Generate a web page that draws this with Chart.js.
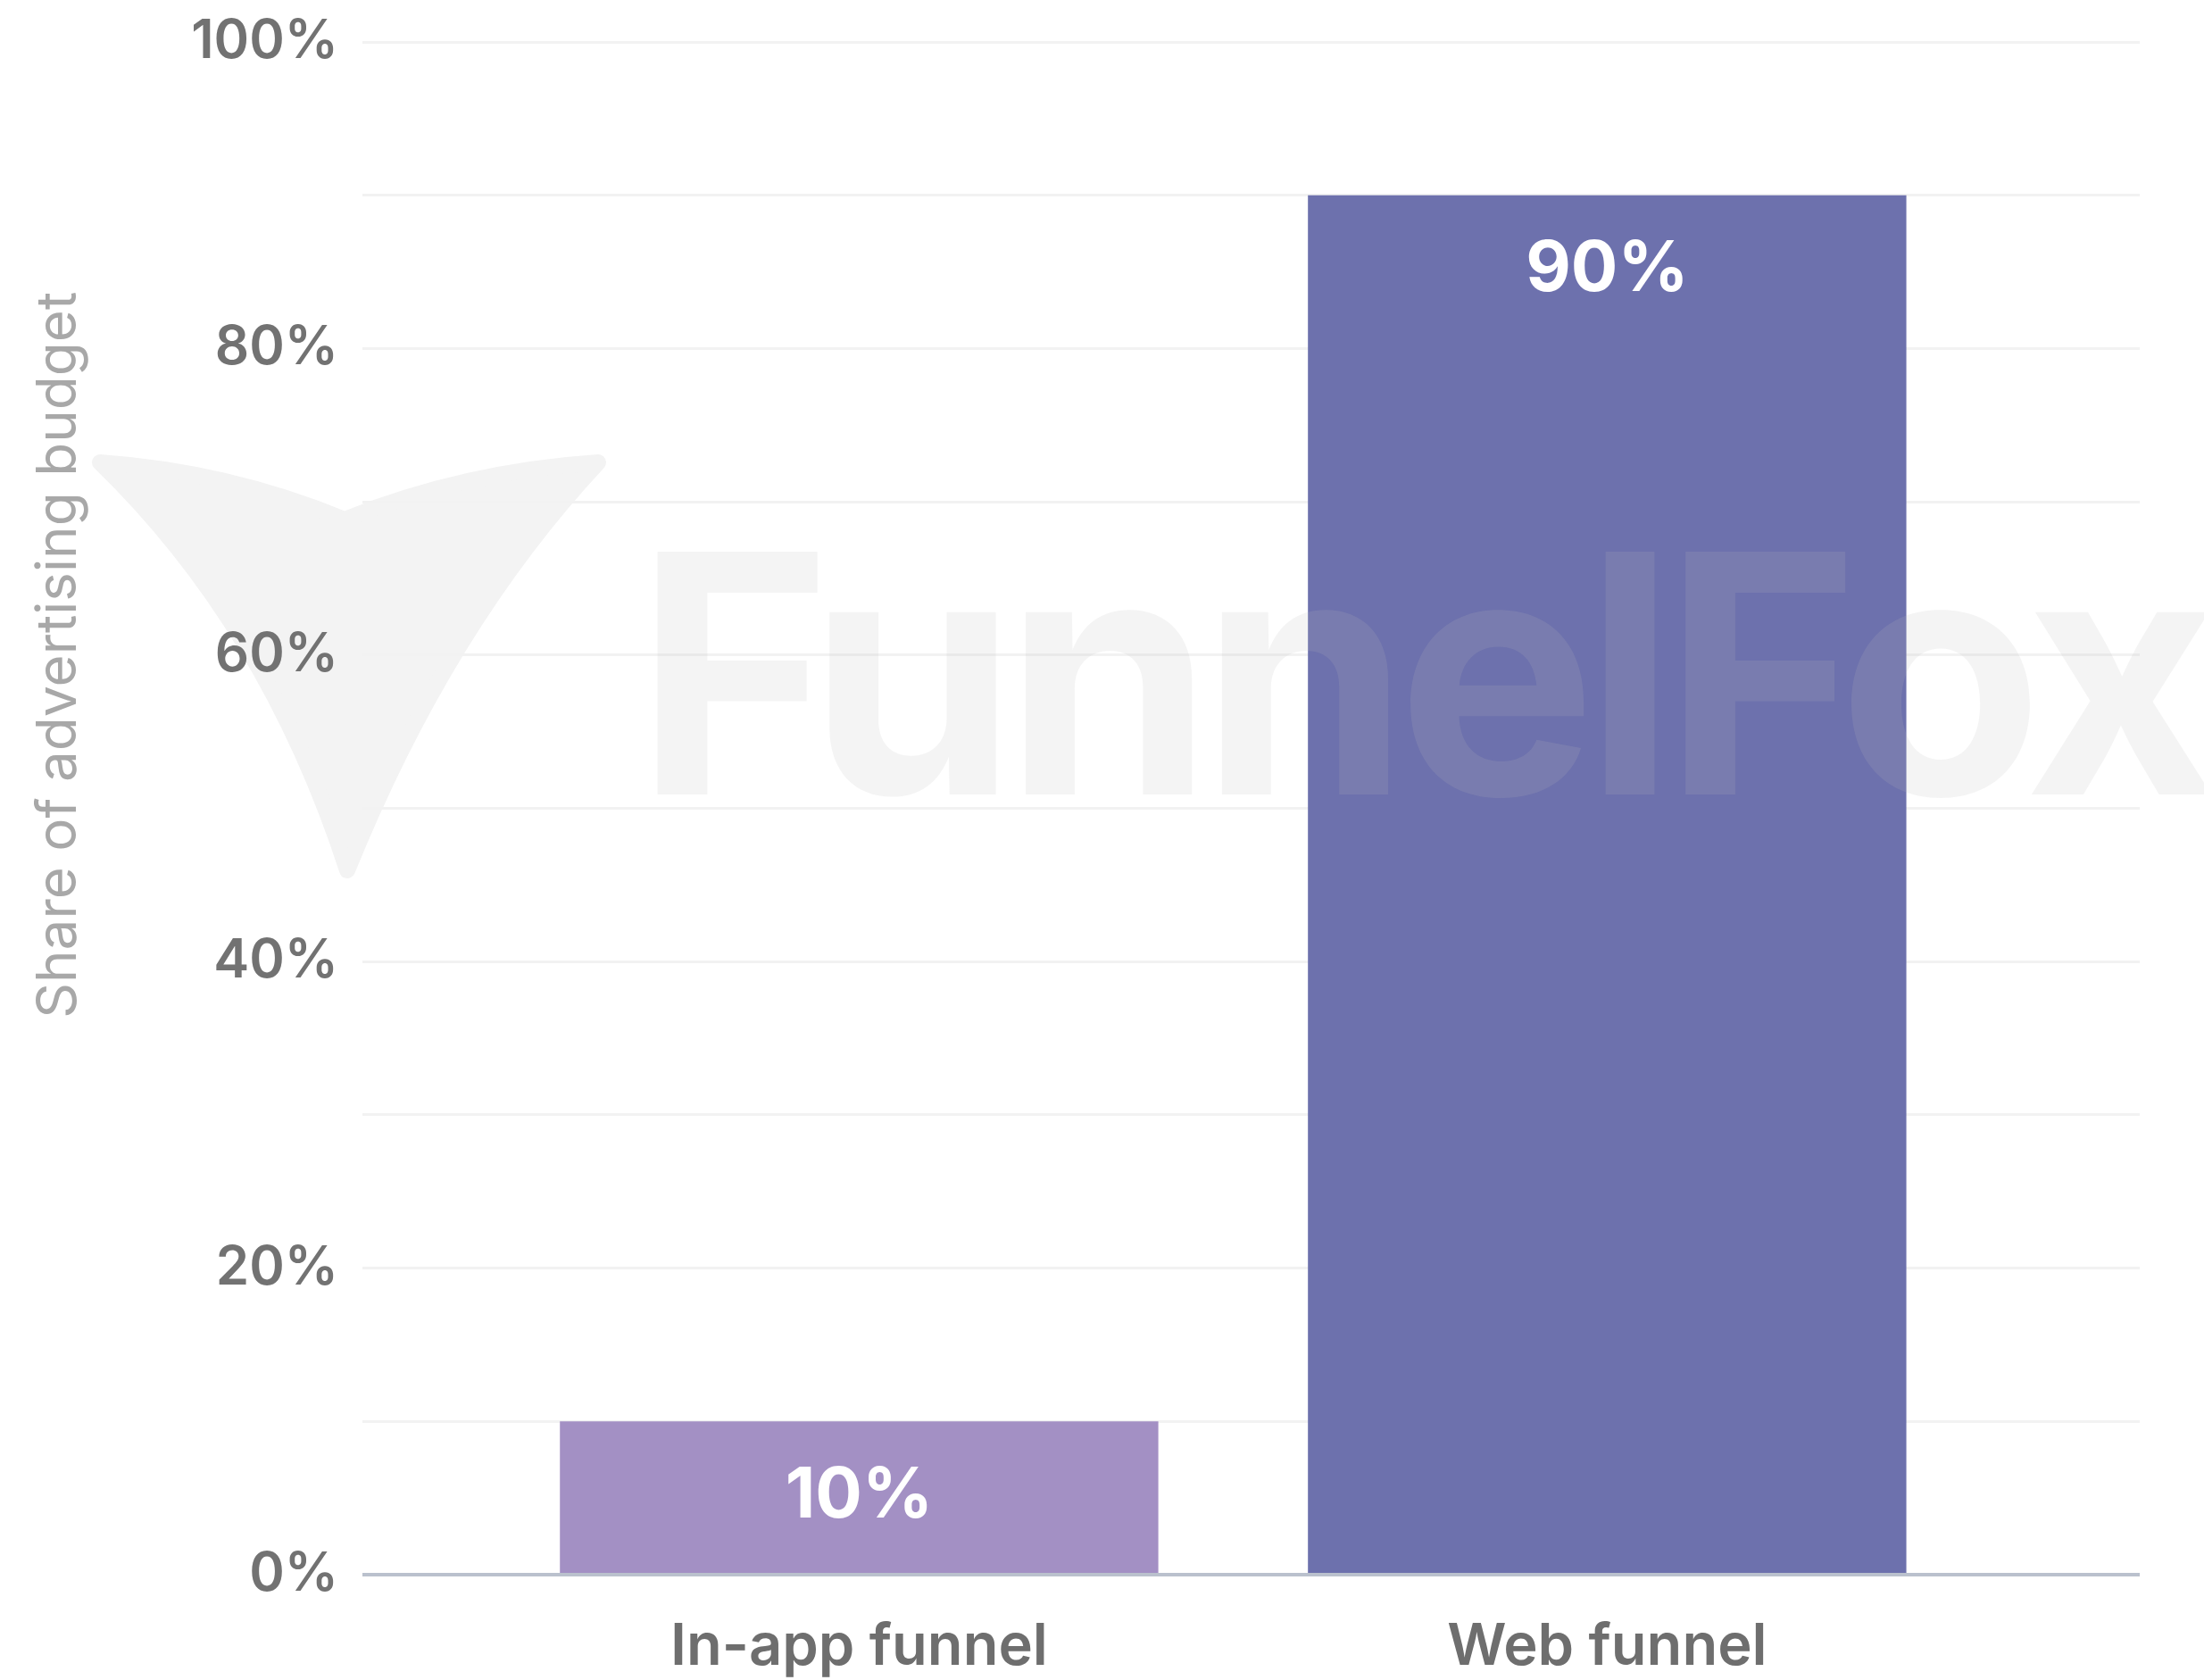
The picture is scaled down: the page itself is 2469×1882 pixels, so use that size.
<!DOCTYPE html>
<html>
<head>
<meta charset="utf-8">
<script src="https://cdn.jsdelivr.net/npm/chart.js@4.4.1/dist/chart.umd.min.js"></script>
<style>
  html, body { margin: 0; padding: 0; background: #fff; }
  #wrap { width: 2469px; height: 1882px; }
</style>
</head>
<body>
<div id="wrap"><canvas id="chart-share"></canvas></div>
<script>
// Share of advertising budget by funnel type
var categories = ['In-app funnel', 'Web funnel'];
var shareValues = [10, 90];
var barColors = ['#a390c4', '#6d71ad'];
var yTickLabels = [0, 20, 40, 60, 80, 100];
var axisTitle = 'Share of advertising budget';
var brandText = 'FunnelFox';

var FONT = 'Inter, "Noto Sans", sans-serif';

// faint fox mark + brand text behind/over the plot
var brandPlugin = {
    id: 'brand',
    beforeDraw: function(chart) {
        var ctx = chart.ctx;
        ctx.save();
        ctx.fillStyle = '#f3f3f3';
        ctx.strokeStyle = '#f3f3f3';
        ctx.lineWidth = 18;
        ctx.lineJoin = 'round';
        ctx.beginPath();
        ctx.moveTo(112, 518);
        ctx.quadraticCurveTo(255, 528, 386, 582);
        ctx.quadraticCurveTo(520, 528, 670, 518);
        ctx.quadraticCurveTo(500, 700, 389, 975);
        ctx.quadraticCurveTo(300, 700, 112, 518);
        ctx.closePath();
        ctx.fill();
        ctx.stroke();
        ctx.restore();
    },
    afterDatasetsDraw: function(chart) {
        var ctx = chart.ctx;
        var area = chart.chartArea;
        ctx.save();
        ctx.font = '700 374px ' + FONT;
        ctx.letterSpacing = '-13px';
        ctx.fillStyle = 'rgba(185,185,185,0.16)';
        ctx.textBaseline = 'alphabetic';
        ctx.textAlign = 'left';
        ctx.fillText(brandText, area.left + 306, area.top + 843);
        ctx.restore();
    }
};

// value labels inside the bars, plus the rotated y title
var labelPlugin = {
    id: 'barLabels',
    afterDraw: function(chart) {
        var ctx = chart.ctx;
        var meta = chart.getDatasetMeta(0);
        ctx.save();
        ctx.font = '700 78px ' + FONT;
        ctx.fillStyle = '#ffffff';
        ctx.textAlign = 'center';
        ctx.textBaseline = 'middle';
        meta.data.forEach(function(bar, i) {
            ctx.fillText(shareValues[i] + '%', bar.x, bar.y + 84);
        });
        ctx.restore();

        var area = chart.chartArea;
        ctx.save();
        ctx.translate(66, area.top + (area.bottom - area.top) * 0.4);
        ctx.rotate(-Math.PI / 2);
        ctx.font = '400 62px ' + FONT;
        ctx.fillStyle = '#a8a8a8';
        ctx.textAlign = 'center';
        ctx.textBaseline = 'middle';
        ctx.fillText(axisTitle, 0, 0);
        ctx.restore();
    }
};

document.addEventListener('DOMContentLoaded', function() {
    var canvas = document.getElementById('chart-share');

    new Chart(canvas, {
        type: 'bar',
        data: {
            datasets: [{
                data: shareValues.map(function(v, i) { return { x: i, y: v }; }),
                backgroundColor: barColors,
                borderWidth: 0,
                categoryPercentage: 0.8,
                barPercentage: 1
            }]
        },
        options: {
            responsive: true,
            maintainAspectRatio: false,
            animation: false,
            layout: { padding: { top: 47, right: 72, left: 0, bottom: 0 } },
            plugins: { legend: { display: false }, tooltip: { enabled: false } },
            scales: {
                x: {
                    type: 'linear',
                    offset: false,
                    min: -0.664,
                    max: 1.712,
                    grid: { display: false, drawTicks: false },
                    border: { display: false },
                    afterBuildTicks: function(scale) {
                        scale.ticks = categories.map(function(c, i) { return { value: i }; });
                    },
                    ticks: {
                        autoSkip: false,
                        maxRotation: 0,
                        padding: 42,
                        color: '#6e6e6e',
                        font: { family: FONT, size: 65, weight: '600' },
                        callback: function(v) { return categories[v]; }
                    },
                    afterFit: function(scale) {
                        scale.height = 118;
                        scale.paddingLeft = 0;
                        scale.paddingRight = 0;
                    }
                },
                y: {
                    min: 0,
                    max: 100,
                    border: { display: false },
                    grid: {
                        drawTicks: false,
                        color: function(c) { return c.tick.value === 0 ? '#bac1cd' : '#f2f2f2'; },
                        lineWidth: function(c) { return c.tick.value === 0 ? 4 : 3; }
                    },
                    ticks: {
                        stepSize: 10,
                        padding: 27,
                        color: '#727272',
                        font: { family: FONT, size: 60, weight: '600' },
                        callback: function(v) { return yTickLabels.indexOf(v) >= 0 ? v + '%' : ''; }
                    },
                    afterFit: function(scale) {
                        scale.width = 406;
                        scale.paddingTop = 0;
                        scale.paddingBottom = 0;
                    }
                }
            }
        },
        plugins: [brandPlugin, labelPlugin]
    });
});
</script>
</body>
</html>
